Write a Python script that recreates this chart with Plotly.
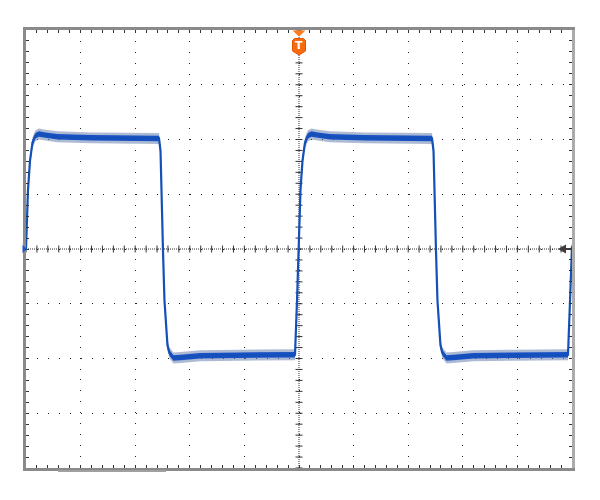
import numpy as np
import plotly.graph_objects as go

t_div = [0.000, 0.036, 0.073, 0.118, 0.173, 0.237, 0.356, 0.575, 1.20, 1.80, 2.30, 2.436,
         2.464, 2.482, 2.509, 2.536, 2.564, 2.591, 2.628, 2.701, 2.828, 3.193, 3.90, 4.50, 4.927,
         4.964, 4.991, 5.027, 5.064, 5.109, 5.164, 5.228, 5.347, 5.566, 6.20, 6.80, 7.30, 7.436,
         7.464, 7.482, 7.509, 7.536, 7.564, 7.591, 7.628, 7.701, 7.828, 8.193, 8.90, 9.50, 9.927,
         9.964, 9.991, 10.0]
v_div = [0.00, 1.07, 1.61, 1.94, 2.07, 2.10, 2.08, 2.05, 2.03, 2.02, 2.02, 2.02,
         1.79, 0.88, -0.03, -0.94, -1.48, -1.76, -1.90, -1.99, -1.98, -1.95, -1.94, -1.94, -1.93,
         -0.94, -0.03, 1.07, 1.61, 1.94, 2.07, 2.10, 2.08, 2.05, 2.03, 2.02, 2.02, 2.02,
         1.79, 0.88, -0.03, -0.94, -1.48, -1.76, -1.90, -1.99, -1.98, -1.95, -1.94, -1.94, -1.93,
         -0.94, -0.03, 0.05]
noise_outer = 0.10   # half-width of the persistence fringe (div)
noise_inner = 0.05   # half-width of the dense core (div)

X_DIVS = 10
Y_DIVS = 8

fig = go.Figure()

# centre-axis tick crosses (graticule decoration)
minor_x = np.arange(0, X_DIVS + 0.001, 0.2)
minor_y = np.arange(-Y_DIVS / 2, Y_DIVS / 2 + 0.001, 0.2)
fig.add_trace(go.Scatter(x=minor_x, y=np.zeros_like(minor_x), mode="markers",
                         marker=dict(symbol="line-ns", size=5, line=dict(width=1, color="#333")),
                         hoverinfo="skip"))
fig.add_trace(go.Scatter(x=np.full_like(minor_y, X_DIVS / 2), y=minor_y, mode="markers",
                         marker=dict(symbol="line-ew", size=5, line=dict(width=1, color="#333")),
                         hoverinfo="skip"))

v_arr = np.array(v_div)
# outer fringe
fig.add_trace(go.Scatter(x=t_div, y=v_arr + noise_outer, mode="lines",
                         line=dict(width=0, color="rgba(0,0,0,0)"), hoverinfo="skip"))
fig.add_trace(go.Scatter(x=t_div, y=v_arr - noise_outer, mode="lines", fill="tonexty",
                         fillcolor="rgba(105,130,175,0.55)",
                         line=dict(width=0, color="rgba(0,0,0,0)"), hoverinfo="skip"))
# inner core
fig.add_trace(go.Scatter(x=t_div, y=v_arr + noise_inner, mode="lines",
                         line=dict(width=0, color="rgba(0,0,0,0)"), hoverinfo="skip"))
fig.add_trace(go.Scatter(x=t_div, y=v_arr - noise_inner, mode="lines", fill="tonexty",
                         fillcolor="rgba(15,75,195,0.95)",
                         line=dict(width=0, color="rgba(0,0,0,0)"), hoverinfo="skip"))
# trace line
fig.add_trace(go.Scatter(x=t_div, y=v_div, mode="lines",
                         line=dict(width=2.2, color="#1450b8"), hoverinfo="skip"))

axis_common = dict(showgrid=True, gridcolor="#222", gridwidth=1, zeroline=False,
                   showticklabels=False, ticks="inside", ticklen=3, tickcolor="#333",
                   showline=True, linecolor="#8a8a8a", linewidth=3, mirror="allticks",
                   fixedrange=True)
fig.update_xaxes(range=[0, X_DIVS], dtick=1, tick0=0, griddash="1px,9.92px",
                 minor=dict(dtick=0.2, tick0=0, ticks="inside", ticklen=3, tickcolor="#333",
                            showgrid=False), **axis_common)
fig.update_yaxes(range=[-Y_DIVS / 2, Y_DIVS / 2], dtick=1, tick0=0, griddash="1px,9.95px",
                 minor=dict(dtick=0.2, tick0=0, ticks="inside", ticklen=3, tickcolor="#333",
                            showgrid=False), **axis_common)

shapes = [
    # dense dotted centre lines
    dict(type="line", xref="x", yref="paper", x0=X_DIVS / 2, x1=X_DIVS / 2, y0=0, y1=1,
         line=dict(color="#333", width=1, dash="1px,1px"), layer="below"),
    dict(type="line", xref="paper", yref="y", x0=0, x1=1, y0=0, y1=0,
         line=dict(color="#333", width=1, dash="1px,1px"), layer="below"),
    # lighter right border
    dict(type="line", xref="paper", yref="paper", xsizemode="pixel", xanchor=1,
         x0=1.5, x1=1.5, y0=0, y1=1, line=dict(color="#ababab", width=3)),
    # trigger position arrow (top)
    dict(type="path", xref="paper", yref="paper", xsizemode="pixel", ysizemode="pixel",
         xanchor=0.5, yanchor=1, path="M -6.5,-0.5 L 6.5,-0.5 L 0,-6.5 Z",
         fillcolor="#ff7a1a", line=dict(width=0)),
    # trigger "T" badge
    dict(type="path", xref="paper", yref="paper", xsizemode="pixel", ysizemode="pixel",
         xanchor=0.5, yanchor=1,
         path="M -4.5,-8.5 L 4.5,-8.5 L 6.5,-10.5 L 6.5,-21 L 0,-25 L -6.5,-21 L -6.5,-10.5 Z",
         fillcolor="#f86a10", line=dict(width=1, color="#e05500")),
    # trigger level marker (right)
    dict(type="path", xref="paper", yref="paper", xsizemode="pixel", ysizemode="pixel",
         xanchor=1, yanchor=0.5, path="M -14,0 L -6,4.5 L -6,-4.5 Z",
         fillcolor="#3c3c3c", line=dict(width=0)),
    dict(type="path", xref="paper", yref="paper", xsizemode="pixel", ysizemode="pixel",
         xanchor=1, yanchor=0.5, path="M -6,0 L 0,0",
         line=dict(width=2, color="#3c3c3c")),
    # channel ground marker (left)
    dict(type="path", xref="paper", yref="paper", xsizemode="pixel", ysizemode="pixel",
         xanchor=0, yanchor=0.5, path="M -3.5,4 L 1,0 L -3.5,-4 Z",
         fillcolor="#1f55c0", line=dict(width=0)),
    # horizontal position bar (bottom)
    dict(type="rect", xref="paper", yref="paper", xsizemode="pixel", ysizemode="pixel",
         xanchor=0, yanchor=0, x0=32, x1=140, y0=-2, y1=-4,
         fillcolor="#a0a0a0", line=dict(width=0)),
]

# page body has an 8px margin, so the figure is 8px smaller and margins shifted
fig.update_layout(
    width=592, height=492,
    margin=dict(l=18, r=28, t=22, b=32),
    plot_bgcolor="white", paper_bgcolor="white",
    showlegend=False, shapes=shapes,
    annotations=[dict(text="<b>T</b>", xref="paper", yref="paper", x=0.5, y=1,
                      xanchor="center", yanchor="middle", yshift=-15, showarrow=False,
                      font=dict(family="DejaVu Sans", size=11, color="white"))],
)

fig.write_html("out.html")
